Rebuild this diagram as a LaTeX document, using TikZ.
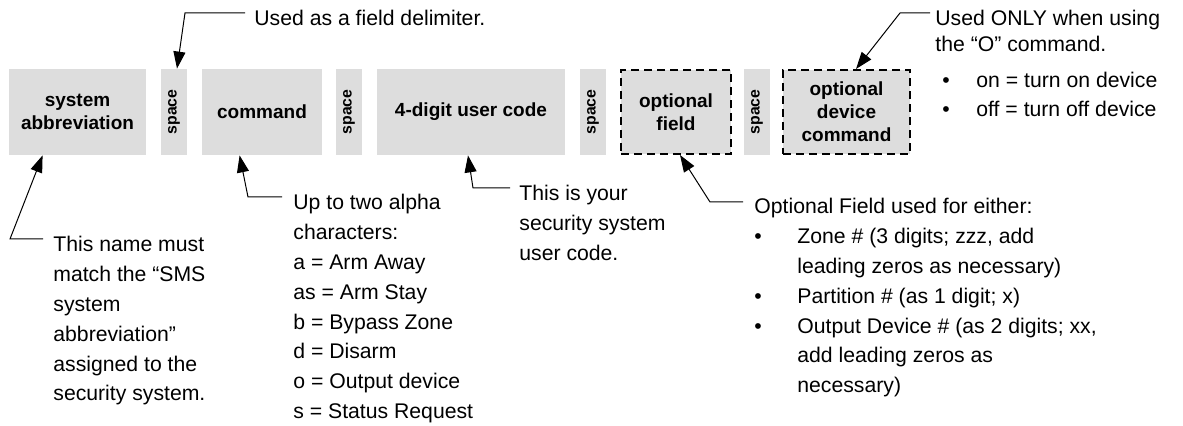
\documentclass[tikz,border=0pt]{standalone}
\usepackage{fontspec}
\setmainfont{Liberation Sans}
\usetikzlibrary{calc,arrows.meta}
\definecolor{boxgray}{RGB}{221,221,221}
\newcommand{\notetext}[1]{\begin{tabular}[t]{@{}l@{}}#1\end{tabular}}

\begin{document}
\begin{tikzpicture}[x=0.5pt, y=-0.5pt,
    field/.style={fill=boxgray, minimum height=43pt, inner sep=0pt, align=center,
      font=\bfseries\fontsize{9.5}{11.5}\selectfont},
    optfield/.style={field, draw, line width=1pt, minimum height=42pt, dash pattern=on 4pt off 2.5pt},
    gap/.style={field, minimum width=13pt, font=\bfseries\fontsize{7.9}{9}\selectfont},
    note/.style={anchor=base west, inner sep=0pt, font=\fontsize{10.6}{14.9}\selectfont},
    leader/.style={line width=0.5pt, -{Triangle[length=8.5pt, width=6pt]}}]
        \useasboundingbox (0,0) rectangle (1183,426);

        % the fields of the message
        \node[field, minimum width=68.5pt] (abbr) at (77.5,112) {system\\abbreviation};
        \node[gap] (sp1) at (174,112) {\rotatebox{90}{space}};
        \node[field, minimum width=60pt] (cmd) at (262,112) {command};
        \node[gap] (sp2) at (349,112) {\rotatebox{90}{space}};
        \node[field, minimum width=94pt] (code) at (471,112) {4-digit user code};
        \node[gap] (sp3) at (593,112) {\rotatebox{90}{space}};
        \node[optfield, minimum width=55pt] (opt) at (676,112) {optional\\field};
        \node[gap] (sp4) at (757,112) {\rotatebox{90}{space}};
        \node[optfield, minimum width=63.5pt] (dev) at (846.5,112) {optional\\device\\command};

        % notes above
        \node[note] (dlm) at (254,26) {Used as a field delimiter.};
        \node[note] (dev-note) at (935,26) {\notetext{Used ONLY when using\\[-2pt]
          the “O” command.\\[3pt]
          \hspace*{3.5pt}\makebox[17pt][l]{\textbullet}on = turn on device\\[-0.5pt]
          \hspace*{3.5pt}\makebox[17pt][l]{\textbullet}off = turn off device}};

        % notes below
        \node[note] (abbr-note) at (53,252) {\notetext{This name must\\match the “SMS\\system\\abbreviation”\\assigned to the\\security system.}};
        \node[note] (cmd-note) at (293,210) {\notetext{Up to two alpha\\characters:\\a = Arm Away\\as = Arm Stay\\b = Bypass Zone\\d = Disarm\\o = Output device\\s = Status Request}};
        \node[note] (code-note) at (519,201) {\notetext{This is your\\security system\\user code.}};
        \node[note] (opt-note) at (754,214) {\notetext{Optional Field used for either:\\
          \makebox[21.5pt][l]{\textbullet}Zone \# (3 digits; zzz, add\\
          \hspace*{21.5pt}leading zeros as necessary)\\
          \makebox[21.5pt][l]{\textbullet}Partition \# (as 1 digit; x)\\
          \makebox[21.5pt][l]{\textbullet}Output Device \# (as 2 digits; xx,\\
          \hspace*{21.5pt}add leading zeros as\\
          \hspace*{21.5pt}necessary)}};

        % leaders
        \coordinate (dlm-a) at (245,13);
        \coordinate (dlm-b) at (185,13);
        \draw[leader] (dlm-a) -- (dlm-b) -- ($(sp1.north)+(3,0)$);
        \coordinate (dev-a) at (930,13);
        \coordinate (dev-b) at (900,13);
        \draw[leader] (dev-a) -- (dev-b) -- ($(dev.north)+(9.5,0)$);
        \coordinate (abbr-a) at (43,239);
        \coordinate (abbr-b) at (10,239);
        \draw[leader] (abbr-a) -- (abbr-b) -- ($(abbr.south west)+(34,0)$);
        \coordinate (cmd-a) at (282,197);
        \coordinate (cmd-b) at (248,197);
        \draw[leader] (cmd-a) -- (cmd-b) -- ($(cmd.south west)+(38,0)$);
        \coordinate (code-a) at (510,188);
        \coordinate (code-b) at (473,188);
        \draw[leader] (code-a) -- (code-b) -- ($(code.south)+(-3,0)$);
        \coordinate (opt-a) at (743,202);
        \coordinate (opt-b) at (710,202);
        \draw[leader] (opt-a) -- (opt-b) -- ($(opt.south)+(4,0)$);
      \end{tikzpicture}
\end{document}
